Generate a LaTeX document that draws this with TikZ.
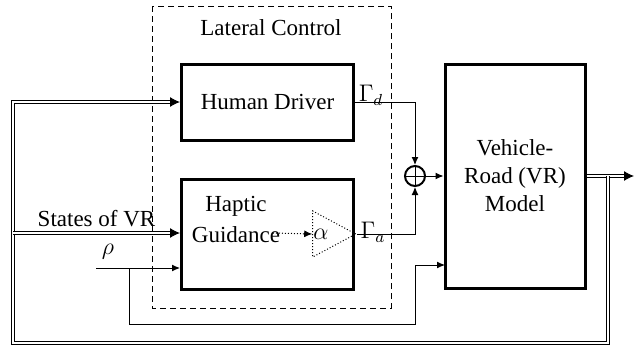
\documentclass[tikz,border=0pt]{standalone}
\usepackage{fontspec}
\setmainfont{Liberation Serif}
\usetikzlibrary{arrows.meta,shapes.geometric}

\begin{document}
\begin{tikzpicture}[x=0.5pt,y=-0.5pt,
  block/.style={draw,line width=1.5pt,inner sep=0pt},
  sig/.style={-{Latex[length=4pt,width=3.5pt]},line width=0.5pt},
  bus/.style={double,double distance=1pt,line width=0.5pt},
  fine dots/.style={dash pattern=on 0.5pt off 1pt,line width=0.5pt},
  lbl/.style={inner sep=1pt}]
\fontsize{11.5}{14}\selectfont
\useasboundingbox (0,0) rectangle (644,349);
% lateral control frame
\draw[dash pattern=on 3pt off 2pt,line width=0.5pt] (152,6) rectangle (391,308);
\node (lat) at (271,28) {Lateral Control};
% blocks
\node[block,minimum width=86pt,minimum height=38pt] (hd) at (267.5,102) {Human Driver};
\node[block,minimum width=86pt,minimum height=55pt] (hg) at (267.5,234) {};
\node[align=center,font=\fontsize{11.5}{15.5}\selectfont] (hgtxt) at (236,219) {Haptic\\Guidance};
\node[draw,fine dots,isosceles triangle,isosceles triangle stretches,
  minimum width=23pt,minimum height=21.5pt,inner sep=0pt] (amp) at (326.5,234) {};
\node (alpha) at (321,234) {$\alpha$};
\node[block,minimum width=70pt,minimum height=112pt,align=center] (vr) at (515,176)
  {Vehicle-\\Road (VR)\\Model};
\node[draw,circle,line width=1pt,minimum size=10pt,inner sep=0pt,
  path picture={\draw[line width=0.4pt] (path picture bounding box.north) -- (path picture bounding box.south)
    (path picture bounding box.west) -- (path picture bounding box.east);}] (sum) at (415,176) {};
% signals inside
\coordinate (hgsrc) at (273,233);
\draw[sig,fine dots] (hgsrc) -- (amp.west);
\draw[sig] (hd.east) -| (sum.north);
\draw[sig] (amp.apex) -| (sum.south);
\draw[sig] (sum.east) -- (vr.west);
\node[lbl] (gd) at (371,95) {$\Gamma_d$};
\node[lbl] (ga) at (373,232) {$\Gamma_a$};
% rho input and its branch to the model
\node (rho) at (108,252) {$\rho$};
\coordinate (rhoin) at (96,268);
\coordinate (tap) at (129,268);
\coordinate (low) at (415,324);
\coordinate (vrin) at (445,265);
\draw[sig] (rhoin) -- (rhoin -| hg.west);
\draw[sig] (tap) |- (low) |- (vrin);
% state feedback
\coordinate (out) at (634,176);
\coordinate (ytap) at (608,176);
\coordinate (fb) at (13,343);
\coordinate (fbup) at (13,233);
\draw[bus,-{Latex[length=5pt,width=5pt]}] (vr.east) -- (out);
\draw[bus] (ytap) |- (fb) |- (fbup);
\draw[bus,-{Latex[length=5pt,width=5pt]}] (fbup) |- (hd.west);
\draw[bus,-{Latex[length=5pt,width=5pt]}] (fbup) -- (fbup -| hg.west)
  node[midway,above=-1pt] (st) {States of VR};
\end{tikzpicture}
\end{document}
